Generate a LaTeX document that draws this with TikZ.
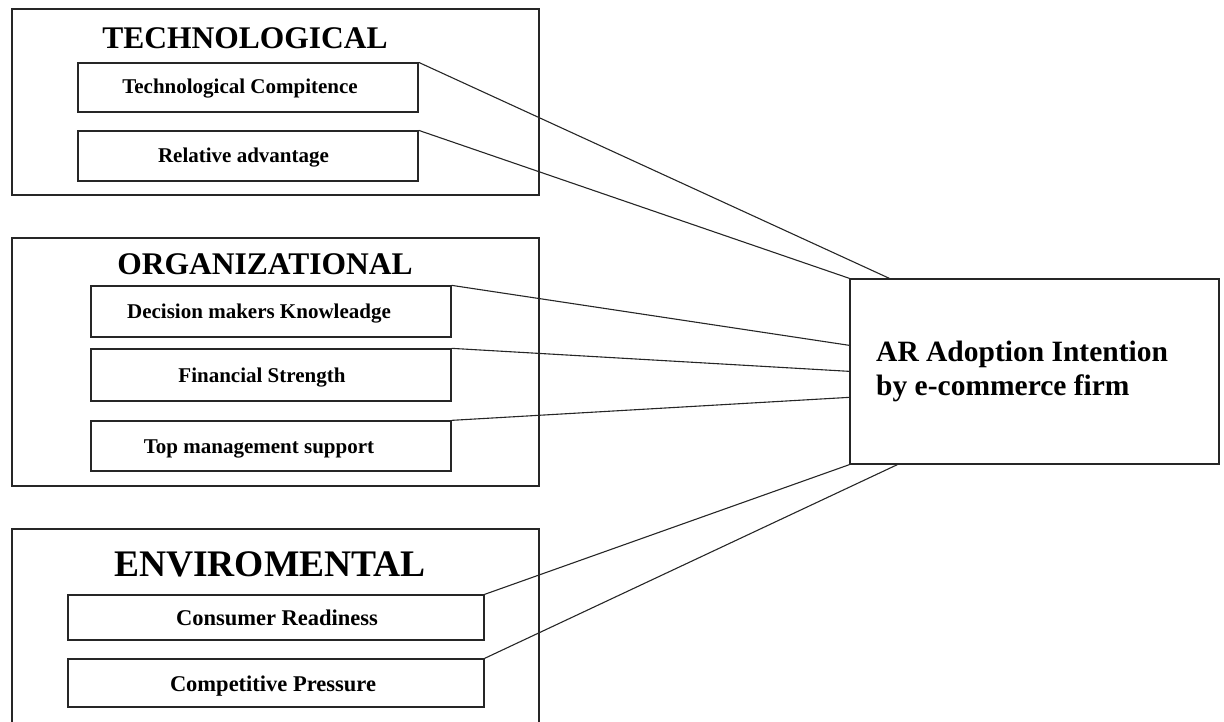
\documentclass[tikz,border=0pt]{standalone}
\usepackage{fontspec}
\setmainfont{Liberation Serif}
\usetikzlibrary{calc}
\begin{document}
\begin{tikzpicture}[x=1pt,y=-1pt,
  frame/.style={draw=black!85, line width=1.3pt},
  factor/.style={draw=black!85, line width=1.3pt, rectangle, inner sep=0pt},
  link/.style={draw=black!85, line width=1.1pt},
  heading/.style={anchor=base, inner sep=0pt, font=\bfseries\fontsize{31.5}{36}\selectfont},
  bigheading/.style={anchor=base, inner sep=0pt, font=\bfseries\fontsize{37.5}{42}\selectfont},
  factortext/.style={anchor=base, inner sep=0pt, font=\bfseries\fontsize{21}{25}\selectfont},
  envtext/.style={anchor=base, inner sep=0pt, font=\bfseries\fontsize{22.5}{27}\selectfont},
  goaltext/.style={anchor=base west, inner sep=0pt, font=\bfseries\fontsize{29.5}{34}\selectfont}
]
\useasboundingbox (0,0) rectangle (1224,722);
\clip (0,0) rectangle (1224,722);

% group frames
\draw[frame] (12,9) rectangle (539,195);
\draw[frame] (12,238) rectangle (539,486);
\draw[frame] (12,740) -- (12,529) -- (539,529) -- (539,740);

% group headings
\node[heading] (hTech) at (245,49) {TECHNOLOGICAL};
\node[heading] (hOrg) at (265,275) {ORGANIZATIONAL};
\node[bigheading] (hEnv) at (270,576) {ENVIROMENTAL};

% factor boxes
\node[factor, minimum width=340pt, minimum height=49pt] (tc) at (248,87.5) {};
\node[factor, minimum width=340pt, minimum height=50pt] (ra) at (248,156) {};
\node[factor, minimum width=360pt, minimum height=51pt] (dm) at (271,311.5) {};
\node[factor, minimum width=360pt, minimum height=52pt] (fs) at (271,375) {};
\node[factor, minimum width=360pt, minimum height=50pt] (tm) at (271,446) {};
\node[factor, minimum width=416pt, minimum height=45pt] (cr) at (276,617.5) {};
\node[factor, minimum width=416pt, minimum height=48pt] (cp) at (276,683) {};

% factor captions
\node[factortext] (tTc) at (240,94) {Technological Compitence};
\node[factortext] (tRa) at (243.5,163) {Relative advantage};
\node[factortext] (tDm) at (259,318.5) {Decision makers Knowleadge};
\node[factortext] (tFs) at (262,382) {Financial Strength};
\node[factortext] (tTm) at (259,453) {Top management support};
\node[envtext] (tCr) at (277,625) {Consumer Readiness};
\node[envtext] (tCp) at (273,691) {Competitive Pressure};

% outcome box
\node[factor, minimum width=369pt, minimum height=185pt] (ar) at (1034.5,371.5) {};
\node[goaltext] (tAr1) at (876,361) {AR Adoption Intention};
\node[goaltext] (tAr2) at (876,395) {by e-commerce firm};

% connectors
\draw[link] (tc.north east) -- ($(ar.north west)+(40,0)$);
\draw[link] (ra.north east) -- (ar.north west);
\draw[link] (dm.north east) -- ($(ar.north west)+(0,67)$);
\draw[link] (fs.north east) -- ($(ar.north west)+(0,93)$);
\draw[link] (tm.north east) -- ($(ar.north west)+(0,119)$);
\draw[link] (cr.north east) -- (ar.south west);
\draw[link] (cp.north east) -- ($(ar.south west)+(48,0)$);
\end{tikzpicture}
\end{document}
